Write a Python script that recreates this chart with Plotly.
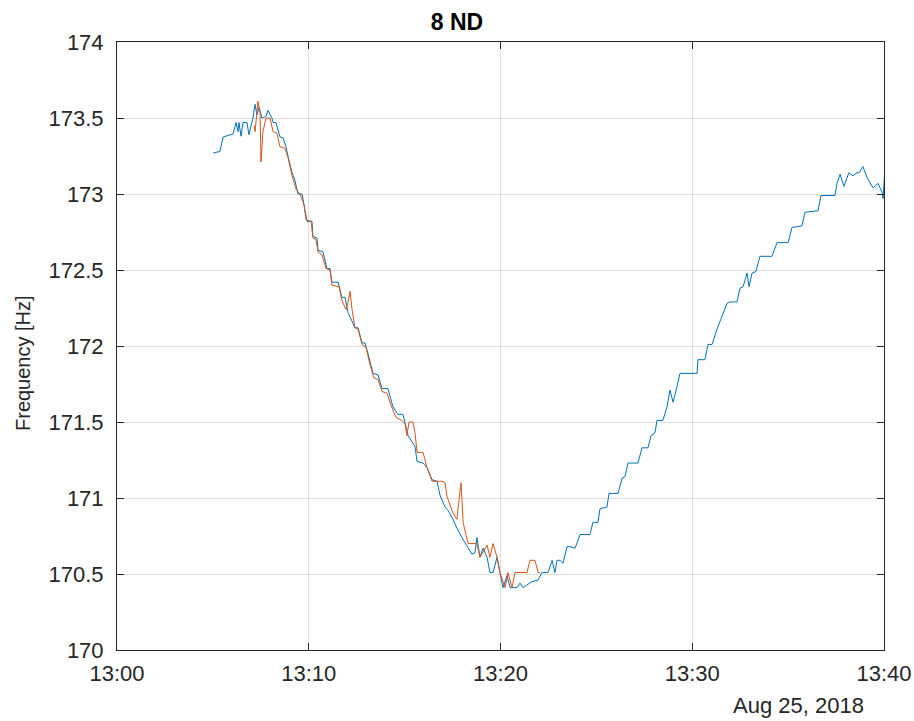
import pandas as pd
import plotly.graph_objects as go

base_time = "2018-08-25 13:00:00"

blue_min = [5.01,5.37,5.53,6.05,6.21,6.31,6.36,6.47,6.57,6.78,6.88,7.09,7.20,7.30,7.41,7.56,7.77,7.87,8.08,8.14,
            8.29,8.50,8.66,8.81,8.97,9.13,9.28,9.44,9.65,9.80,9.91,10.17,10.22,10.43,10.48,10.74,10.95,11.11,11.21,11.53,
            11.73,11.89,12.05,12.41,12.57,12.78,12.93,13.09,13.35,13.61,13.82,14.13,14.39,14.65,14.92,15.18,15.54,15.65,15.96,16.17,
            16.43,16.69,16.84,17.11,17.26,17.52,17.73,17.99,18.25,18.51,18.67,18.77,18.93,19.09,19.30,19.45,19.61,19.82,19.97,20.13,
            20.34,20.50,20.86,21.02,21.17,21.38,21.64,21.96,22.16,22.48,22.69,22.84,22.95,23.10,23.26,23.47,23.62,23.89,24.15,24.67,
            24.82,25.08,25.19,25.55,25.66,26.13,26.34,26.49,26.65,27.17,27.38,27.69,27.85,28.06,28.16,28.47,28.68,28.84,29.00,29.20,
            29.36,30.25,30.30,30.66,30.82,31.03,31.29,31.81,31.97,32.33,32.49,32.65,32.86,32.96,33.12,33.32,33.53,34.16,34.42,35.00,
            35.20,35.72,35.88,36.56,36.71,37.44,37.55,37.71,37.91,38.17,38.38,38.59,38.70,38.90,39.11,39.43,39.69,39.90,39.95,40.05]
blue_hz = [173.27,173.28,173.375,173.395,173.47,173.41,173.47,173.38,173.47,173.47,173.39,173.5,173.59,173.52,173.57,173.5,173.51,173.55,173.5,173.47,
           173.47,173.375,173.37,173.31,173.22,173.14,173.09,173.0,173.0,172.89,172.82,172.82,172.72,172.71,172.63,172.62,172.51,172.51,172.42,172.42,
           172.32,172.32,172.22,172.12,172.12,172.02,172.02,171.95,171.82,171.81,171.72,171.72,171.6,171.55,171.55,171.41,171.34,171.24,171.23,171.2,
           171.12,171.11,171.02,170.94,170.92,170.86,170.80,170.74,170.68,170.63,170.64,170.74,170.61,170.67,170.61,170.51,170.51,170.61,170.51,170.41,
           170.49,170.41,170.41,170.44,170.41,170.43,170.45,170.46,170.51,170.51,170.59,170.51,170.59,170.59,170.57,170.68,170.68,170.67,170.76,170.76,
           170.84,170.84,170.93,170.94,171.03,171.03,171.13,171.14,171.23,171.23,171.33,171.33,171.41,171.43,171.51,171.51,171.6,171.71,171.63,171.73,
           171.82,171.82,171.91,171.91,172.01,172.01,172.11,172.28,172.29,172.29,172.38,172.39,172.48,172.39,172.48,172.49,172.59,172.59,172.68,172.68,
           172.78,172.79,172.88,172.89,172.99,172.99,173.07,173.13,173.05,173.14,173.12,173.14,173.14,173.18,173.11,173.04,173.07,173.01,172.97,173.17]

orange_min = [7.15,7.20,7.35,7.46,7.51,7.56,7.61,7.77,7.98,8.14,8.34,8.50,8.76,8.92,9.13,9.34,9.54,9.75,9.86,10.12,
              10.22,10.38,10.48,10.69,10.90,11.11,11.21,11.58,11.73,11.94,12.05,12.15,12.26,12.41,12.57,12.78,12.99,13.19,13.40,13.61,
              13.82,14.08,14.29,14.55,14.86,15.02,15.12,15.23,15.44,15.54,15.65,15.96,16.17,16.43,16.95,17.11,17.21,17.52,17.73,17.84,
              17.94,17.99,18.05,18.31,18.77,18.93,19.30,19.45,19.61,19.82,19.97,20.24,20.39,20.60,20.76,21.38,21.54,21.80,21.96,22.06]
orange_hz = [173.45,173.41,173.61,173.54,173.21,173.32,173.41,173.5,173.5,173.41,173.40,173.31,173.30,173.24,173.12,173.03,173.0,172.93,172.83,172.82,
             172.71,172.70,172.62,172.60,172.51,172.50,172.40,172.39,172.30,172.24,172.29,172.36,172.24,172.12,172.11,172.01,171.99,171.88,171.79,171.78,
             171.70,171.69,171.61,171.53,171.51,171.49,171.41,171.5,171.5,171.43,171.30,171.30,171.20,171.11,171.11,171.10,171.01,170.90,170.86,170.99,
             171.10,170.99,170.84,170.70,170.70,170.61,170.69,170.61,170.70,170.61,170.51,170.41,170.51,170.41,170.51,170.51,170.59,170.59,170.51,170.51]

title_text = "8 ND"
y_label = "Frequency [Hz]"
date_label = "Aug 25, 2018"
y_ticks = [170, 170.5, 171, 171.5, 172, 172.5, 173, 173.5, 174]

t0 = pd.Timestamp(base_time)
blue_t = t0 + pd.to_timedelta(blue_min, unit="min")
orange_t = t0 + pd.to_timedelta(orange_min, unit="min")

FONT = "Liberation Sans, Arial, sans-serif"
AX = "#262626"
GRID = "#dfdfdf"

fig = go.Figure()
fig.add_trace(go.Scatter(x=blue_t, y=blue_hz, mode="lines",
                         line=dict(color="#0072BD", width=1), showlegend=False))
fig.add_trace(go.Scatter(x=orange_t, y=orange_hz, mode="lines",
                         line=dict(color="#D95319", width=1), showlegend=False))

fig.update_layout(
    width=914, height=721,
    margin=dict(l=117, r=30, t=42, b=71, autoexpand=False),
    paper_bgcolor="white", plot_bgcolor="white",
    font=dict(family=FONT, size=22, color=AX),
    title=dict(text="<b>" + title_text + "</b>", x=0.5, xanchor="center",
               y=1 - 22/721, yanchor="middle", font=dict(size=23, color="black")),
    annotations=[
        dict(text=date_label, xref="paper", yref="paper",
             x=(866 - 117) / 767, y=-(705 - 650) / 608,
             xanchor="right", yanchor="middle", showarrow=False,
             font=dict(size=22, color=AX)),
        dict(text=y_label, xref="paper", yref="paper",
             x=-(117 - 23) / 767, y=(650 - 363) / 608, textangle=-90,
             xanchor="center", yanchor="middle", showarrow=False,
             font=dict(size=20, color=AX)),
    ],
)
fig.update_xaxes(
    type="date", automargin=False,
    range=[t0, t0 + pd.Timedelta(minutes=40)],
    dtick=600000, tick0=t0, tickformat="%H:%M",
    showgrid=True, gridcolor=GRID, gridwidth=1,
    showline=True, linecolor=AX, linewidth=1, mirror="ticks",
    ticks="inside", ticklen=7, tickcolor=AX, tickwidth=1,
    zeroline=False, ticklabelstandoff=4,
)
fig.update_yaxes(
    range=[170, 174], tickvals=y_ticks, automargin=False,
    ticktext=[("%g" % v) for v in y_ticks],
    showgrid=True, gridcolor=GRID, gridwidth=1,
    showline=True, linecolor=AX, linewidth=1, mirror="ticks",
    ticks="inside", ticklen=7, tickcolor=AX, tickwidth=1,
    zeroline=False, ticklabelstandoff=8,
)

fig.write_html("out.html")
